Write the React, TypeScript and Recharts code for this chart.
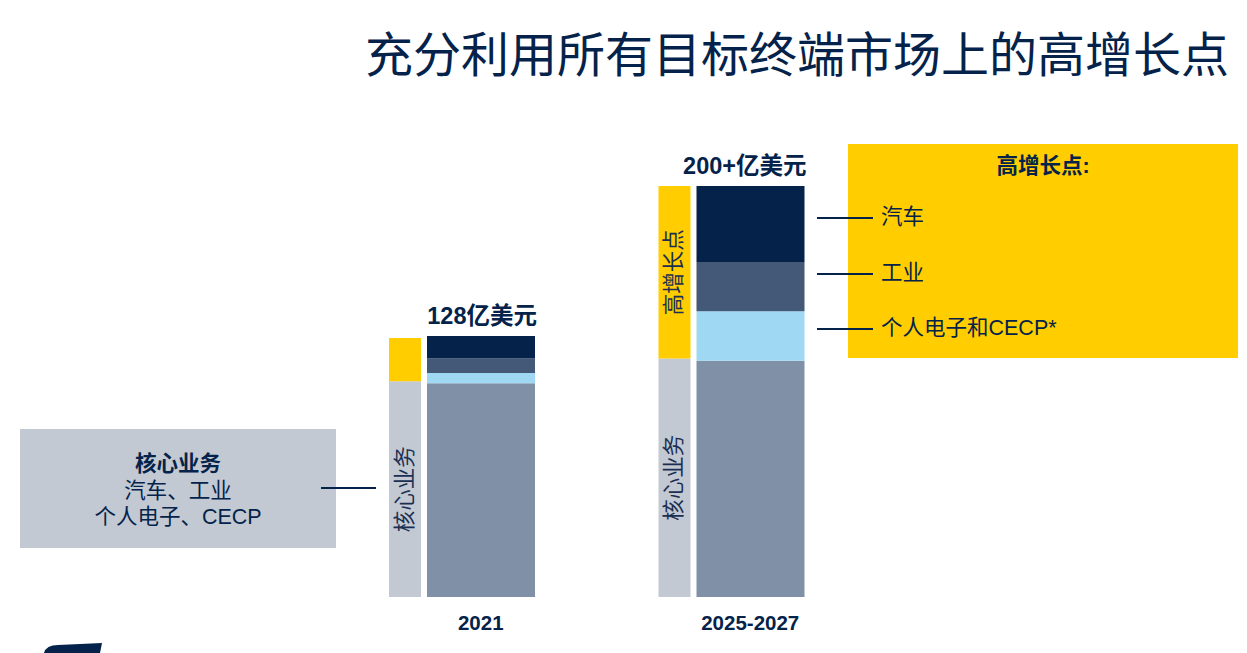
import { BarChart, Bar, XAxis, YAxis, LabelList } from 'recharts';

// ---------------------------------------------------------------------------
// Data (亿美元)
// ---------------------------------------------------------------------------

const categories = ['2021', '2025-2027'];
const totalLabels = ['128亿美元', '200+亿美元'];

// left thin bar: core vs. high-growth
const sideCore = [105, 116];
const sideGrowth = [21, 84];
const sideCoreText = ['核心业务', '核心业务'];
const sideGrowthText = ['', '高增长点'];

// main stacked bar
const core = [104, 115];
const consumer = [5, 24];
const industrial = [7, 24];
const auto = [11, 37];

const growthItems = ['汽车', '工业', '个人电子和CECP*'];

const NAVY = '#05234a';
const FONT = '"Liberation Sans", Arial, "Noto Sans CJK SC", sans-serif';

const chartData = categories.map((c, i) => ({
  name: c,
  total: totalLabels[i],
  sideCore: sideCore[i],
  sideGrowth: sideGrowth[i],
  sideCoreText: sideCoreText[i],
  sideGrowthText: sideGrowthText[i],
  core: core[i],
  consumer: consumer[i],
  industrial: industrial[i],
  auto: auto[i],
}));

// ---------------------------------------------------------------------------
// Custom renderers
// ---------------------------------------------------------------------------

function XTick({ x, y, payload }: any) {
  return (
    <text x={x + 19} y={y} dy={25} textAnchor="middle" fill={NAVY}
      style={{ fontFamily: FONT, fontSize: 20.5, fontWeight: 700 }}>
      {payload.value}
    </text>
  );
}

function TotalLabel({ x, y, width, value }: any) {
  return (
    <text x={x + width + 2} y={y - 12} textAnchor="end" fill={NAVY}
      style={{ fontFamily: FONT, fontSize: 23.5, fontWeight: 700 }}>
      {value}
    </text>
  );
}

function VerticalLabel({ x, y, width, height, value }: any) {
  if (!value) return null;
  const cx = x + width / 2;
  const cy = y + height / 2;
  return (
    <text x={cx} y={cy} transform={`rotate(-90 ${cx} ${cy})`} textAnchor="middle"
      dominantBaseline="central" fill="#1b2f52"
      style={{ fontFamily: FONT, fontSize: 21.5 }}>
      {value}
    </text>
  );
}

// ---------------------------------------------------------------------------
// Main
// ---------------------------------------------------------------------------

export default function App() {
  return (
    <div style={{ position: 'absolute', left: 0, top: 0, width: 1247, height: 653, background: '#fff', fontFamily: FONT, overflow: 'hidden' }}>
      {/* Title */}
      <div style={{ position: 'absolute', left: 365, top: 26, fontSize: 48, color: NAVY, whiteSpace: 'nowrap', lineHeight: '60px' }}>
        充分利用所有目标终端市场上的高增长点
      </div>

      <div style={{ position: 'absolute', left: 0, top: 0 }}>
        <BarChart width={1247} height={653} data={chartData} barGap={6}
          margin={{ top: 186, right: 381, bottom: 26, left: 327 }}>
          <YAxis hide domain={[0, 200]} />
          <XAxis dataKey="name" axisLine={false} tickLine={false} height={30} tick={<XTick />} />

          {/* thin side bar */}
          <Bar dataKey="sideCore" stackId="side" barSize={32} fill="#c2c9d3" isAnimationActive={false}>
            <LabelList dataKey="sideCoreText" content={<VerticalLabel />} />
          </Bar>
          <Bar dataKey="sideGrowth" stackId="side" barSize={32} fill="#ffcd00" isAnimationActive={false}>
            <LabelList dataKey="sideGrowthText" content={<VerticalLabel />} />
          </Bar>

          {/* main stacked bar */}
          <Bar dataKey="core" stackId="main" barSize={108} fill="#8091a7" isAnimationActive={false} />
          <Bar dataKey="consumer" stackId="main" barSize={108} fill="#9fd8f2" isAnimationActive={false} />
          <Bar dataKey="industrial" stackId="main" barSize={108} fill="#445877" isAnimationActive={false} />
          <Bar dataKey="auto" stackId="main" barSize={108} fill={NAVY} isAnimationActive={false}>
            <LabelList dataKey="total" content={<TotalLabel />} />
          </Bar>
        </BarChart>
      </div>

      {/* Core business box */}
      <div style={{ position: 'absolute', left: 20, top: 429, width: 316, height: 119, background: '#c2c9d3', color: NAVY, textAlign: 'center', fontSize: 21.5, lineHeight: '26.5px', paddingTop: 22, boxSizing: 'border-box' }}>
        <div style={{ fontWeight: 700 }}>核心业务</div>
        <div>汽车、工业</div>
        <div>个人电子、CECP</div>
      </div>
      <div style={{ position: 'absolute', left: 321, top: 487, width: 55, height: 2, background: NAVY }} />

      {/* High growth box */}
      <div style={{ position: 'absolute', left: 848, top: 144, width: 390, height: 214, background: '#ffcd00', color: NAVY }}>
        <div style={{ position: 'absolute', left: 0, right: 0, top: 9, textAlign: 'center', fontSize: 21.5, fontWeight: 700, lineHeight: '26px' }}>高增长点:</div>
        {growthItems.map((t, i) => (
          <div key={t} style={{ position: 'absolute', left: 33, top: 60 + i * 55.5, fontSize: 21.5, lineHeight: '26px', whiteSpace: 'nowrap' }}>{t}</div>
        ))}
      </div>
      {growthItems.map((t, i) => (
        <div key={t} style={{ position: 'absolute', left: 817, top: 217 + i * 55.5, width: 56, height: 2, background: NAVY }} />
      ))}

      {/* Logo fragment */}
      <svg style={{ position: 'absolute', left: 40, top: 643 }} width={70} height={10}>
        <path d="M4 10 Q6 2 18 2 L62 0 L60 10 Z" fill={NAVY} />
      </svg>
    </div>
  );
}
